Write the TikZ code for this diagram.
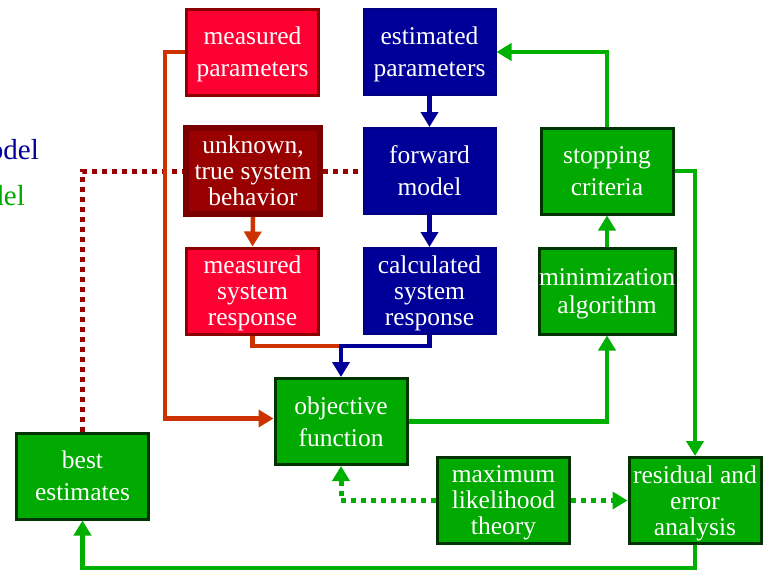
\documentclass[tikz,border=0pt]{standalone}
\usepackage{fontspec}
\setmainfont{Liberation Serif}
\usetikzlibrary{arrows.meta}

\definecolor{redfill}{HTML}{FF0033}
\definecolor{redline}{HTML}{8B0000}
\definecolor{darkredfill}{HTML}{990000}
\definecolor{darkredline}{HTML}{7A0000}
\definecolor{navyfill}{HTML}{000099}
\definecolor{navyline}{HTML}{000080}
\definecolor{greenfill}{HTML}{00AA00}
\definecolor{greenline}{HTML}{003300}
\definecolor{orangewire}{HTML}{CC3300}
\definecolor{navywire}{HTML}{000099}
\definecolor{greenwire}{HTML}{00B000}
\definecolor{dotred}{HTML}{990000}

\tikzset{
  box/.style={rectangle, minimum width=132pt, minimum height=86pt, inner sep=0pt,
    align=center, text=white, line width=3pt, text depth=0pt,
    font=\fontsize{25.5}{26}\selectfont},
  twoline/.style={font=\fontsize{25.5}{32}\selectfont},
  redbox/.style={box, fill=redfill, draw=redline},
  truthbox/.style={box, fill=darkredfill, draw=darkredline, line width=6pt,
    minimum width=134pt},
  navybox/.style={box, fill=navyfill, draw=navyline, line width=2pt},
  greenbox/.style={box, fill=greenfill, draw=greenline},
  tip/.style={-{Triangle[width=17pt,length=15pt]}},
  wire/.style={line width=4.5pt},
  orangeflow/.style={wire, draw=orangewire},
  navyflow/.style={wire, draw=navywire},
  greenflow/.style={wire, draw=greenwire},
  redlink/.style={line width=5pt, draw=dotred, dash pattern=on 5pt off 5pt},
  greenlink/.style={line width=5pt, draw=greenwire, dash pattern=on 5pt off 5pt},
  sidelabel/.style={inner sep=0pt, anchor=base east,
    font=\fontsize{29}{30}\selectfont}
}

\begin{document}
\begin{tikzpicture}[x=1pt, y=-1pt]
  \useasboundingbox (0,0) rectangle (765,570);
  \fill[white] (0,0) rectangle (765,570);

  % legend words running off the left edge
  \begin{scope}
    \clip (0,0) rectangle (765,570);
    \node[sidelabel, text=navyfill] (legfwd) at (39,159) {model};
    \node[sidelabel, text=greenfill] (leginv) at (25,205) {model};
  \end{scope}

  % boxes
  \node[redbox, twoline]   (mp)  at (252.5,52)  {measured\\parameters};
  \node[navybox, twoline]  (ep)  at (429.5,52)  {estimated\\parameters};
  \node[truthbox]          (un)  at (253,171)   {unknown,\\true system\\behavior};
  \node[navybox, twoline]  (fm)  at (429.5,171) {forward\\model};
  \node[redbox]            (msr) at (252.5,291) {measured\\system\\response};
  \node[navybox]           (csr) at (429.5,291) {calculated\\system\\response};
  \node[greenbox, twoline] (sc)  at (607,171)   {stopping\\criteria};
  \node[greenbox, font=\fontsize{25.5}{28}\selectfont]
                           (ma)  at (607,291)   {minimization\\algorithm};
  \node[greenbox, twoline] (of)  at (341,421.5) {objective\\function};
  \node[greenbox, twoline] (be)  at (82.5,476)  {best\\estimates};
  \node[greenbox]          (ml)  at (503.5,500.5) {maximum\\likelihood\\theory};
  \node[greenbox]          (re)  at (695,500.5) {residual and\\error\\analysis};

  % junction above the objective function
  \coordinate (join) at (341,346);

  % dotted links to the true system
  \draw[redlink] (be.north) |- (un.west);
  \draw[redlink] (un.east) -- (fm.west);

  % measured data paths
  \draw[orangeflow, tip] (mp.west) -- ++(-20,0) |- ([yshift=3pt]of.west);
  \draw[orangeflow, tip] (un.south) -- (msr.north);
  \draw[orangeflow] (msr.south) |- (join);

  % forward model paths
  \draw[navyflow, tip] (ep.south) -- (fm.north);
  \draw[navyflow, tip] (fm.south) -- (csr.north);
  \draw[navyflow, tip] (csr.south) |- (join) -- (of.north);

  % optimisation loop
  \draw[greenflow, tip] (of.east) -| (ma.south);
  \draw[greenflow, tip] (ma.north) -- (sc.south);
  \draw[greenflow, tip] (sc.north) |- (ep.east);
  \draw[greenflow, tip] (sc.east) -| (re.north);
  \draw[greenflow, tip] (re.south) -- ++(0,23) -| (be.south);

  % maximum likelihood links
  \draw[greenlink, tip] (ml.west) -| (of.south);
  \draw[greenlink, tip] (ml.east) -- (re.west);
\end{tikzpicture}
\end{document}
